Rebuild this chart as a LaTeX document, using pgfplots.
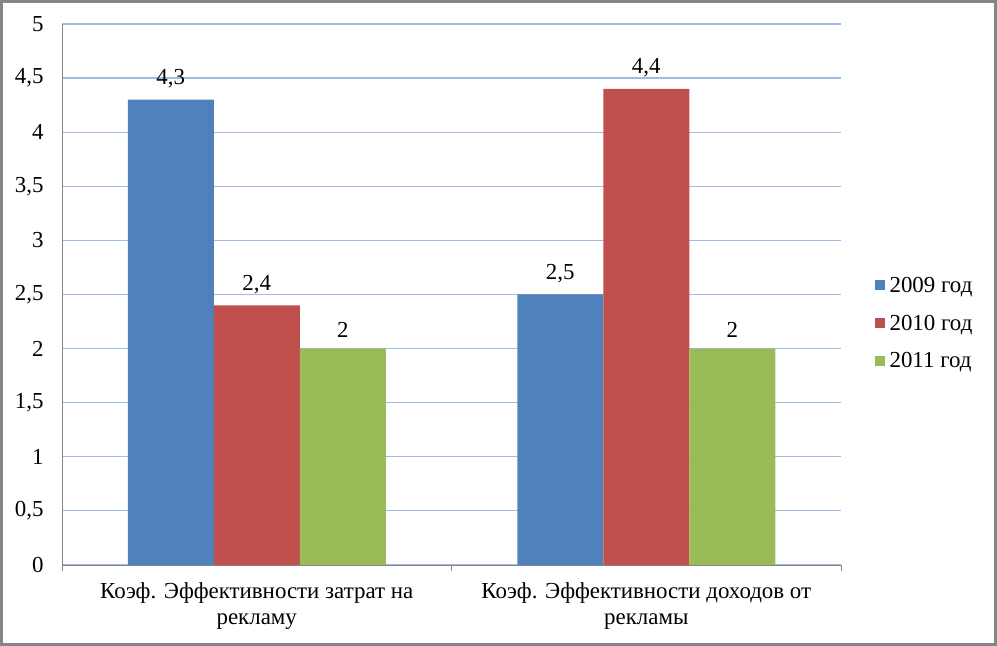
\documentclass[border=0pt]{standalone}
\usepackage{pgfplots}
\pgfplotsset{compat=1.18}
\usepackage{fontspec}
\setmainfont{Liberation Serif}
\newfontfamily\tnr{Liberation Serif}
\definecolor{cblue}{HTML}{4F81BD}
\definecolor{cred}{HTML}{C0504D}
\definecolor{cgreen}{HTML}{9BBB59}
\definecolor{cgrid}{HTML}{A0BCE4}
\definecolor{caxis}{HTML}{868686}
\begin{document}
\begin{tikzpicture}[x=1bp,y=1bp]
\draw[caxis, line width=3bp] (1.5,1.5) rectangle (995.5,644.5);
\begin{axis}[
  at={(62bp,81bp)}, anchor=south west,
  scale only axis, width=779bp, height=541bp,
  xmin=-0.5, xmax=1.5, ymin=0, ymax=5,
  ybar=0pt, bar width=86bp,
  axis x line*=bottom, axis y line*=left,
  axis line style={-, draw=caxis, line width=0.8bp},
  ytick={0,0.5,...,5},
  ymajorgrids, grid style={cgrid, line width=1.2bp},
  xtick={-0.5,0.5,1.5}, xticklabels={},
  x tick style={draw=caxis, line width=0.8bp},
  xtick align=outside, major tick length=6bp,
  y tick style={draw=none},
  extra x ticks={0,1},
  extra x tick labels={{Коэф. Эффективности затрат на\\рекламу},{Коэф. Эффективности доходов от\\рекламы}},
  extra x tick style={major tick length=0pt, grid=none,
     xticklabel style={align=center, yshift=-14bp}},
  /pgf/number format/use comma,
  /pgf/number format/assume math mode=true,
  ticklabel style={font=\tnr\fontsize{23}{26}\selectfont},
  yticklabel style={xshift=-15bp},
  nodes near coords,
  every node near coord/.append style={font=\tnr\fontsize{23}{27}\selectfont, anchor=south, yshift=8bp},
  legend style={draw=none, at={(1.039,0.447)}, anchor=west,
     font=\tnr\fontsize{23}{27}\selectfont, row sep=17bp},
  legend cell align=left,
  legend image code/.code={\fill[#1] (0bp,-5bp) rectangle (10bp,5bp); \path (13bp,0bp);},
]
\addplot[draw=none, fill=cblue] coordinates {(0,4.3) (1,2.5)};
\addplot[draw=none, fill=cred] coordinates {(0,2.4) (1,4.4)};
\addplot[draw=none, fill=cgreen] coordinates {(0,2) (1,2)};
\legend{2009 год, 2010 год, 2011 год}
\end{axis}
\end{tikzpicture}
\end{document}
